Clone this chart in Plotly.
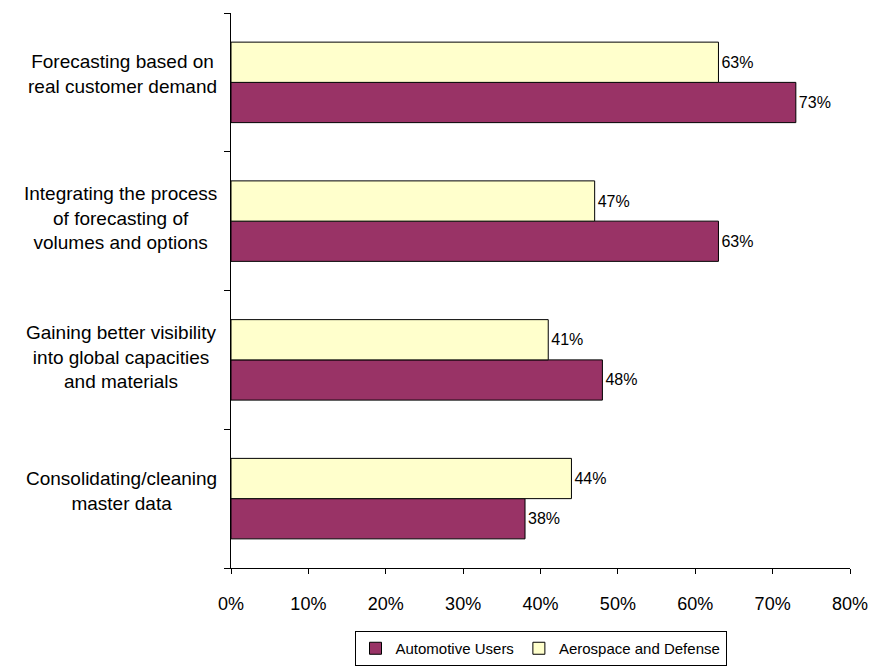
import plotly.graph_objects as go

categories = [
    "Consolidating/cleaning<br>master data",
    "Gaining better visibility<br>into global capacities<br>and materials",
    "Integrating the process<br>of forecasting of<br>volumes and options",
    "Forecasting based on<br>real customer demand",
]
automotive = [0.38, 0.48, 0.63, 0.73]
aerospace = [0.44, 0.41, 0.47, 0.63]
xticks = [0, 0.1, 0.2, 0.3, 0.4, 0.5, 0.6, 0.7, 0.8]
xticklabels = ["0%", "10%", "20%", "30%", "40%", "50%", "60%", "70%", "80%"]

font = "Arial, Liberation Sans, sans-serif"

fig = go.Figure()
fig.add_trace(go.Bar(
    y=categories, x=automotive, orientation="h", name="Automotive Users",
    marker=dict(color="#993366", line=dict(color="#000000", width=1)),
    text=[f"{round(v*100)}%" for v in automotive], textposition="outside",
    textfont=dict(size=16, color="#000000", family=font), cliponaxis=False,
))
fig.add_trace(go.Bar(
    y=categories, x=aerospace, orientation="h", name="Aerospace and Defense",
    marker=dict(color="#FFFFCC", line=dict(color="#000000", width=1)),
    text=[f"{round(v*100)}%" for v in aerospace], textposition="outside",
    textfont=dict(size=16, color="#000000", family=font), cliponaxis=False,
))

for c in categories:
    nlines = c.count("<br>") + 1
    fig.add_annotation(
        x=0, xref="paper", y=c, yref="y", text=c, showarrow=False,
        xanchor="right", yanchor="middle", align="center", xshift=-12,
        yshift=8 if nlines == 2 else 3,
        font=dict(size=19, color="#000000", family=font),
    )

fig.update_layout(
    width=875, height=667,
    margin=dict(l=231, r=25, t=13, b=99),
    paper_bgcolor="white", plot_bgcolor="white",
    barmode="group", bargap=0.42, bargroupgap=0,
    font=dict(family=font, color="#000000"),
    showlegend=True,
    legend=dict(
        orientation="h", x=0.5, xanchor="center",
        yref="container", y=1 - 631 / 667, yanchor="top",
        bordercolor="#000000", borderwidth=1, font=dict(size=15, family=font),
        itemwidth=30, tracegroupgap=0,
    ),
    xaxis=dict(
        range=[0, 0.8], tickvals=xticks, ticktext=xticklabels, automargin=False,
        showgrid=False, zeroline=False, showline=True, linecolor="#000000",
        linewidth=1, ticks="outside", ticklen=5, tickcolor="#000000",
        tickfont=dict(size=18, family=font), ticklabelstandoff=14,
    ),
    yaxis=dict(
        showticklabels=False, showgrid=False, zeroline=False, showline=True,
        automargin=False,
        linecolor="#000000", linewidth=1, ticks="outside", ticklen=6,
        tickcolor="#000000", tickson="boundaries",
    ),
)

fig.write_html("out.html")
